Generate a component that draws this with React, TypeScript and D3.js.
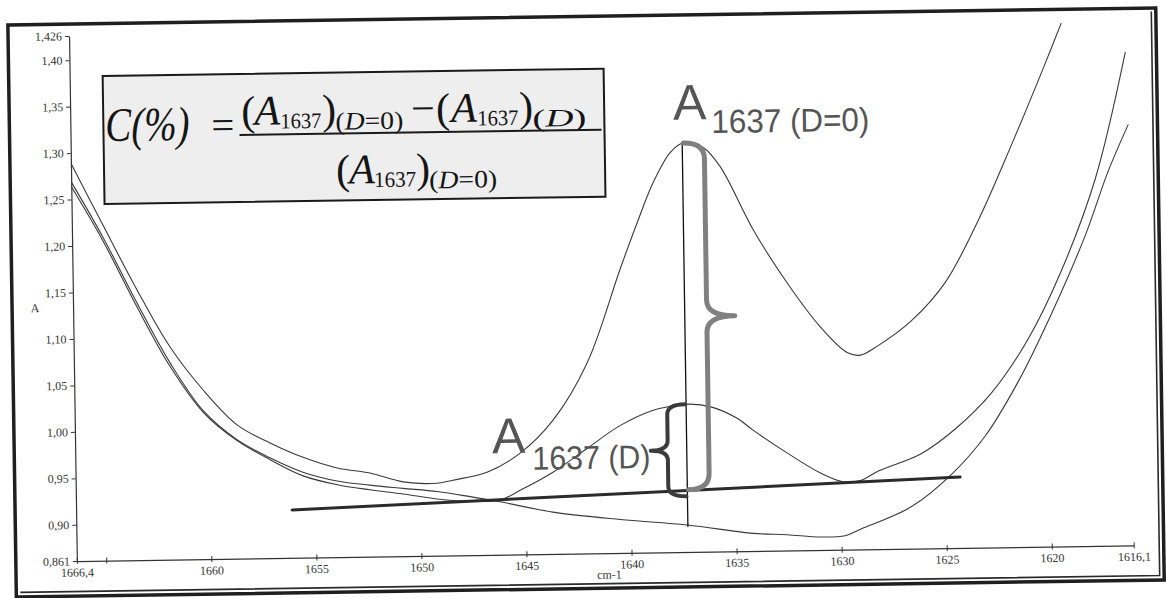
import React, { useEffect, useRef } from "react";
import * as d3 from "d3";

// Spectrum A (no denaturation, D=0): wavenumber cm-1 / absorbance
const cmA = [1666.4, 1664.92, 1663.35, 1661.82, 1660.27, 1658.68, 1657.12, 1655.56, 1653.95, 1652.39, 1650.82, 1649.2, 1648.44, 1646.82, 1645.23, 1643.64, 1641.98, 1640.35, 1639.5, 1638.71, 1637.88, 1637.26, 1636.31, 1635.51, 1633.99, 1632.41, 1630.86, 1629.6, 1628.98, 1628.12, 1626.53, 1624.88, 1623.27, 1621.65, 1619.97, 1619.18];
const absA = [1.289, 1.222, 1.152, 1.09, 1.043, 1.005, 0.985, 0.969, 0.957, 0.951, 0.941, 0.939, 0.942, 0.95, 0.97, 1.005, 1.066, 1.166, 1.216, 1.259, 1.291, 1.301, 1.296, 1.275, 1.207, 1.149, 1.101, 1.073, 1.07, 1.08, 1.106, 1.147, 1.213, 1.293, 1.381, 1.424];

// Spectrum B (small peak, A1637 (D))
const cmB = [1666.4, 1664.93, 1663.35, 1661.83, 1660.28, 1658.69, 1657.13, 1655.57, 1653.96, 1652.4, 1650.83, 1649.21, 1647.64, 1646.22, 1645.26, 1643.68, 1642.04, 1640.46, 1638.87, 1638.06, 1637.11, 1636.16, 1634.88, 1634.13, 1632.53, 1630.97, 1629.88, 1629.07, 1628.2, 1626.15, 1624.51, 1622.77, 1620.97, 1619.36, 1617.67, 1616.15];
const absB = [1.264, 1.205, 1.133, 1.069, 1.019, 0.988, 0.967, 0.949, 0.939, 0.933, 0.928, 0.922, 0.919, 0.92, 0.93, 0.949, 0.974, 0.998, 1.014, 1.018, 1.02, 1.017, 1.004, 0.991, 0.966, 0.944, 0.934, 0.935, 0.945, 0.963, 0.989, 1.027, 1.085, 1.157, 1.256, 1.392];

// Spectrum C (lowest trace)
const cmC = [1666.4, 1664.93, 1663.36, 1661.83, 1660.29, 1658.69, 1657.14, 1655.58, 1653.96, 1652.4, 1650.83, 1649.21, 1647.64, 1646.22, 1643.71, 1640.52, 1637.33, 1634.2, 1632.58, 1631.01, 1629.82, 1629.06, 1626.66, 1624.73, 1623.09, 1621.48, 1619.86, 1618.19, 1617.05, 1616.06];
const absC = [1.269, 1.209, 1.138, 1.073, 1.021, 0.989, 0.969, 0.953, 0.943, 0.938, 0.934, 0.93, 0.924, 0.918, 0.906, 0.897, 0.89, 0.88, 0.878, 0.875, 0.876, 0.883, 0.906, 0.94, 0.981, 1.039, 1.111, 1.195, 1.264, 1.314];

// tangent baseline
const baseCm = [1656.12, 1624.31];
const baseAbs = [0.9125, 0.9373];

// peak marker
const peakCm = 1637.3;
const peakTopAbs = 1.301;
const peakSmallAbs = 1.02;
const markerBottomAbs = 0.888;
const bigBraceBottomAbs = 0.928;
const smallBraceBottomAbs = 0.921;

const yTicks = [0.861, 0.9, 0.95, 1.0, 1.05, 1.1, 1.15, 1.2, 1.25, 1.3, 1.35, 1.4, 1.426];
const yTickLabels = ["0,861", "0,90", "0,95", "1,00", "1,05", "1,10", "1,15", "1,20", "1,25", "1,30", "1,35", "1,40", "1,426"];
const xTicks = [1666.4, 1665, 1660, 1655, 1650, 1645, 1640, 1635, 1630, 1625, 1620, 1616.1];
const xTickLabels = ["1666,4", "", "1660", "1655", "1650", "1645", "1640", "1635", "1630", "1625", "1620", "1616,1"];

const W = 1166;
const H = 598;
const serif = "'Liberation Serif', 'Times New Roman', serif";
const sans = "'Liberation Sans', Arial, sans-serif";

export default function App() {
  const ref = useRef<SVGSVGElement>(null);

  useEffect(() => {
    const svg = d3.select(ref.current);
    svg.selectAll("*").remove();

    // the scanned page is slightly rotated
    const g = svg.append("g").attr("transform", "rotate(-0.85, 583, 299)");

    const x = d3.scaleLinear([1666.4, 1616.1], [73, 1130]);
    const y = d3.scaleLinear([0.861, 1.426], [553.5, 28.4]);

    // frame
    g.append("rect")
      .attr("x", 12).attr("y", 16.5).attr("width", 1148).attr("height", 572)
      .attr("fill", "none").attr("stroke", "#1f1f1f").attr("stroke-width", 3.5);
    g.append("path")
      .attr("d", "M1155.5,20 L1155.5,584 L16,584")
      .attr("fill", "none").attr("stroke", "#2a2a2a").attr("stroke-width", 1.6);

    // axes
    const yAxis = d3.axisLeft(y)
      .tickValues(yTicks)
      .tickFormat((d, i) => yTickLabels[i])
      .tickSize(4).tickSizeOuter(0).tickPadding(3);
    g.append("g")
      .attr("transform", "translate(73,0)")
      .call(yAxis)
      .call((a) => a.select(".domain").attr("stroke", "#333").attr("stroke-width", 1.2))
      .call((a) => a.selectAll(".tick line").attr("stroke", "#333"))
      .call((a) => a.selectAll("text").attr("font-family", serif).attr("font-size", 12).attr("fill", "#333"));

    const xAxis = d3.axisBottom(x)
      .tickValues(xTicks)
      .tickFormat((d, i) => xTickLabels[i])
      .tickSize(3).tickSizeOuter(0).tickPadding(4);
    g.append("g")
      .attr("transform", "translate(0,553.5)")
      .call(xAxis)
      .call((a) => a.select(".domain").attr("stroke", "#333").attr("stroke-width", 1.2))
      .call((a) => a.selectAll(".tick line").attr("y1", -3).attr("y2", 3).attr("stroke", "#333"))
      .call((a) => a.selectAll("text").attr("font-family", serif).attr("font-size", 12).attr("fill", "#333"));

    g.append("text").attr("x", 35).attr("y", 304).attr("text-anchor", "middle")
      .attr("font-family", serif).attr("font-size", 12).attr("fill", "#333").text("A");
    g.append("text").attr("x", 593).attr("y", 579)
      .attr("font-family", serif).attr("font-size", 12).attr("fill", "#333").text("cm-1");

    // spectra
    const spectra = [
      [cmA, absA],
      [cmB, absB],
      [cmC, absC],
    ];
    const line = d3.line<number>().curve(d3.curveCatmullRom.alpha(0.5));
    g.append("g")
      .selectAll("path")
      .data(spectra)
      .join("path")
      .attr("d", ([cm, ab]) => line.x((i) => x(cm[i])).y((i) => y(ab[i]))(d3.range(cm.length)))
      .attr("fill", "none")
      .attr("stroke", "#3a3a3a")
      .attr("stroke-width", 1.1);

    // baseline
    g.append("line")
      .attr("x1", x(baseCm[0])).attr("y1", y(baseAbs[0]))
      .attr("x2", x(baseCm[1])).attr("y2", y(baseAbs[1]))
      .attr("stroke", "#2b2b2b").attr("stroke-width", 3).attr("stroke-linecap", "round");

    // vertical marker at the peak
    const xp = x(peakCm);
    g.append("line")
      .attr("x1", xp).attr("y1", y(peakTopAbs))
      .attr("x2", xp).attr("y2", y(markerBottomAbs))
      .attr("stroke", "#111").attr("stroke-width", 1.3);

    // curly brace, w = offset of the straight parts, t = tip length
    const brace = (x0: number, yT: number, yB: number, w: number, t: number, r: number) => {
      const yM = (yT + yB) / 2;
      const p = d3.path();
      p.moveTo(x0, yT);
      p.quadraticCurveTo(x0 + w, yT, x0 + w, yT + r);
      p.lineTo(x0 + w, yM - r);
      p.quadraticCurveTo(x0 + w, yM, x0 + w + t, yM);
      p.quadraticCurveTo(x0 + w, yM, x0 + w, yM + r);
      p.lineTo(x0 + w, yB - r);
      p.quadraticCurveTo(x0 + w, yB, x0, yB);
      return p.toString();
    };
    g.append("path")
      .attr("d", brace(xp + 1, y(peakTopAbs), y(bigBraceBottomAbs), 21, 28, 16))
      .attr("fill", "none").attr("stroke", "#808080").attr("stroke-width", 5)
      .attr("stroke-linecap", "round").attr("stroke-linejoin", "round");
    g.append("path")
      .attr("d", brace(xp - 1, y(peakSmallAbs), y(smallBraceBottomAbs), -18, -17, 10))
      .attr("fill", "none").attr("stroke", "#3b3b3b").attr("stroke-width", 4)
      .attr("stroke-linecap", "round").attr("stroke-linejoin", "round");

    const put = (
      px: number, py: number, s: string, size: number,
      o: { italic?: boolean; len?: number; family?: string; fill?: string } = {}
    ) => {
      const t = g.append("text")
        .attr("x", px).attr("y", py)
        .attr("font-size", size)
        .attr("font-family", o.family || serif)
        .attr("fill", o.fill || "#151515")
        .text(s);
      if (o.italic) t.attr("font-style", "italic");
      if (o.len) t.attr("textLength", o.len).attr("lengthAdjust", "spacingAndGlyphs");
      return t;
    };

    // peak labels
    const lab = "#555";
    put(676, 121, "A", 50, { family: sans, fill: lab });
    put(714, 135, "1637 (D=0)", 33, { family: sans, fill: lab, len: 158 });
    put(490, 452, "A", 50, { family: sans, fill: lab });
    put(530, 469, "1637 (D)", 33, { family: sans, fill: lab, len: 118 });

    // formula box
    g.append("rect")
      .attr("x", 106).attr("y", 69).attr("width", 501).attr("height", 128)
      .attr("fill", "#eeeeee").attr("stroke", "#1a1a1a").attr("stroke-width", 2);

    put(108, 134, "C(%)", 48, { italic: true, len: 84 });
    put(214, 133, "=", 40, { len: 23 });

    // sub-index "(D=0)" / "(D)" with an italic D
    const sub = (px: number, py: number, rest: string, len: number) => {
      const s = put(px, py, "(", 25);
      s.append("tspan").attr("font-style", "italic").text("D");
      s.append("tspan").text(rest);
      s.attr("textLength", len).attr("lengthAdjust", "spacingAndGlyphs");
    };

    // numerator
    const nb = 120;
    put(244, nb, "(", 42);
    put(257, nb, "A", 42, { italic: true });
    put(283, nb + 4, "1637", 22, { len: 41 });
    put(325, nb, ")", 42);
    sub(338, nb + 6, "=0)", 68);
    put(414, nb, "\u2212", 42);
    put(439, nb, "(", 42);
    put(454, nb, "A", 42, { italic: true });
    put(480, nb + 4, "1637", 22, { len: 41 });
    put(522, nb, ")", 42);
    sub(535, nb + 6, ")", 54);

    // fraction bar
    g.append("line")
      .attr("x1", 242).attr("y1", 130).attr("x2", 604).attr("y2", 130)
      .attr("stroke", "#1a1a1a").attr("stroke-width", 2);

    // denominator
    const db = 180;
    put(338, db, "(", 42);
    put(351, db, "A", 42, { italic: true });
    put(376, db + 4, "1637", 22, { len: 42 });
    put(418, db, ")", 42);
    sub(431, db + 6, "=0)", 68);
  }, []);

  return (
    <svg
      ref={ref}
      width={W}
      height={H}
      viewBox={`0 0 ${W} ${H}`}
      style={{ position: "absolute", left: 0, top: 0, background: "#fff", display: "block" }}
    />
  );
}
